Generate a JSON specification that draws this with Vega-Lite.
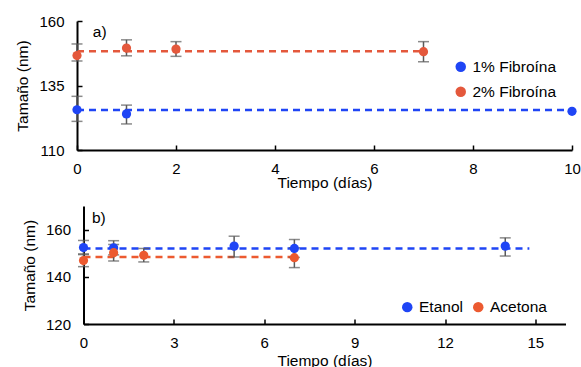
{
  "$schema": "https://vega.github.io/schema/vega-lite/v6.json",
  "padding": {"top": 14, "left": 15, "right": 2, "bottom": 0},
  "background": "white",
  "spacing": 56,
  "center": true,
  "bounds": "flush",
  "resolve": {"scale": {"color": "independent"}, "legend": {"color": "independent"}},
  "config": {
    "font": "Liberation Sans",
    "view": {"stroke": null},
    "axis": {
      "grid": false,
      "domainColor": "black",
      "domainWidth": 2,
      "tickColor": "black",
      "tickWidth": 1.5,
      "tickSize": -5,
      "labelFlush": false,
      "labelFont": "Liberation Sans",
      "labelFontSize": 15,
      "labelColor": "black",
      "titleFont": "Liberation Sans",
      "titleFontSize": 15.5,
      "titleFontWeight": "normal",
      "titleColor": "black"
    },
    "axisX": {"labelPadding": 16, "titlePadding": -1},
    "axisY": {"labelPadding": 18, "titlePadding": 8},
    "legend": {
      "labelFont": "Liberation Sans",
      "labelFontSize": 15.5,
      "labelColor": "black",
      "symbolType": "circle",
      "symbolSize": 110,
      "symbolStrokeWidth": 0,
      "title": null
    }
  },
  "datasets": {
    "pa": [
      {"serie": "1% Fibroína", "dia": 0, "tam": 125.6, "lo": 121.1, "hi": 130.8},
      {"serie": "1% Fibroína", "dia": 1, "tam": 124.0, "lo": 120.1, "hi": 127.4},
      {"serie": "1% Fibroína", "dia": 10, "tam": 125.0},
      {"serie": "2% Fibroína", "dia": 0, "tam": 146.6, "lo": 144.5, "hi": 151.1},
      {"serie": "2% Fibroína", "dia": 1, "tam": 149.5, "lo": 146.5, "hi": 152.7},
      {"serie": "2% Fibroína", "dia": 2, "tam": 149.1, "lo": 146.3, "hi": 152.0},
      {"serie": "2% Fibroína", "dia": 7, "tam": 148.1, "lo": 144.2, "hi": 152.0}
    ],
    "la": [
      {"serie": "1% Fibroína", "ini": 0, "fin": 10, "tam": 125.5},
      {"serie": "2% Fibroína", "ini": 0, "fin": 6.95, "tam": 148.3}
    ],
    "pb": [
      {"serie": "Etanol", "dia": 0, "tam": 152.4, "lo": 149.4, "hi": 155.4},
      {"serie": "Etanol", "dia": 1, "tam": 152.3, "lo": 149.3, "hi": 155.3},
      {"serie": "Etanol", "dia": 5, "tam": 153.0, "lo": 148.4, "hi": 157.2},
      {"serie": "Etanol", "dia": 7, "tam": 152.0, "lo": 148.2, "hi": 155.8},
      {"serie": "Etanol", "dia": 14, "tam": 153.0, "lo": 148.8, "hi": 156.5},
      {"serie": "Acetona", "dia": 0, "tam": 146.9, "lo": 144.3, "hi": 149.7},
      {"serie": "Acetona", "dia": 1, "tam": 150.2, "lo": 146.7, "hi": 153.7},
      {"serie": "Acetona", "dia": 2, "tam": 149.1, "lo": 146.3, "hi": 152.0},
      {"serie": "Acetona", "dia": 7, "tam": 148.1, "lo": 143.9, "hi": 152.3}
    ],
    "lb": [
      {"serie": "Etanol", "ini": 0, "fin": 14.8, "tam": 152.0},
      {"serie": "Acetona", "ini": 0, "fin": 7, "tam": 148.4}
    ],
    "ta": [{"t": "a)", "x": 0.32, "y": 155.8}],
    "tb": [{"t": "b)", "x": 0.28, "y": 164.8}]
  },
  "vconcat": [
    {
      "width": 495,
      "height": 129,
      "resolve": {"legend": {"color": "independent"}},
      "layer": [
        {
          "data": {"name": "la"},
          "mark": {"type": "rule", "strokeDash": [7, 5], "strokeWidth": 2.5},
          "encoding": {
            "x": {"field": "ini", "type": "quantitative", "scale": {"domain": [0, 10]}, "axis": {"values": [0, 2, 4, 6, 8, 10], "title": "Tiempo (días)"}},
            "x2": {"field": "fin"},
            "y": {"field": "tam", "type": "quantitative", "scale": {"domain": [110, 160]}, "axis": {"values": [110, 135, 160], "title": "Tamaño (nm)"}},
            "color": {"field": "serie", "type": "nominal", "scale": {"domain": ["1% Fibroína", "2% Fibroína"], "range": ["#1F45F5", "#E4583C"]}, "legend": null}
          }
        },
        {
          "data": {"name": "pa"},
          "mark": {"type": "rule", "color": "#5a5a5a", "strokeWidth": 1.5},
          "encoding": {
            "x": {"field": "dia", "type": "quantitative"},
            "y": {"field": "lo", "type": "quantitative"},
            "y2": {"field": "hi"}
          }
        },
        {
          "data": {"name": "pa"},
          "mark": {"type": "tick", "orient": "horizontal", "color": "#5a5a5a", "size": 11, "thickness": 1.5},
          "encoding": {
            "x": {"field": "dia", "type": "quantitative"},
            "y": {"field": "lo", "type": "quantitative"}
          }
        },
        {
          "data": {"name": "pa"},
          "mark": {"type": "tick", "orient": "horizontal", "color": "#5a5a5a", "size": 11, "thickness": 1.5},
          "encoding": {
            "x": {"field": "dia", "type": "quantitative"},
            "y": {"field": "hi", "type": "quantitative"}
          }
        },
        {
          "data": {"name": "pa"},
          "mark": {"type": "point", "filled": true, "opacity": 1, "size": 85},
          "encoding": {
            "x": {"field": "dia", "type": "quantitative"},
            "y": {"field": "tam", "type": "quantitative"},
            "color": {"field": "serie", "type": "nominal", "legend": {"orient": "none", "legendX": 376, "legendY": 38, "rowPadding": 8}}
          }
        },
        {
          "data": {"name": "ta"},
          "mark": {"type": "text", "fontSize": 15.5, "align": "left", "baseline": "middle", "color": "black"},
          "encoding": {
            "x": {"field": "x", "type": "quantitative"},
            "y": {"field": "y", "type": "quantitative"},
            "text": {"field": "t"}
          }
        }
      ]
    },
    {
      "width": 482,
      "height": 118,
      "resolve": {"legend": {"color": "independent"}},
      "layer": [
        {
          "data": {"name": "lb"},
          "mark": {"type": "rule", "strokeDash": [7, 5], "strokeWidth": 2.5},
          "encoding": {
            "x": {"field": "ini", "type": "quantitative", "scale": {"domain": [0, 15]}, "axis": {"values": [0, 3, 6, 9, 12, 15], "title": "Tiempo (días)", "titlePadding": 3}},
            "x2": {"field": "fin"},
            "y": {"field": "tam", "type": "quantitative", "scale": {"domain": [120, 170]}, "axis": {"values": [120, 140, 160], "title": "Tamaño (nm)"}},
            "color": {"field": "serie", "type": "nominal", "scale": {"domain": ["Etanol", "Acetona"], "range": ["#1F45F5", "#EC5A30"]}, "legend": null}
          }
        },
        {
          "data": {"name": "pb"},
          "mark": {"type": "rule", "color": "#5a5a5a", "strokeWidth": 1.5},
          "encoding": {
            "x": {"field": "dia", "type": "quantitative"},
            "y": {"field": "lo", "type": "quantitative"},
            "y2": {"field": "hi"}
          }
        },
        {
          "data": {"name": "pb"},
          "mark": {"type": "tick", "orient": "horizontal", "color": "#5a5a5a", "size": 11, "thickness": 1.5},
          "encoding": {
            "x": {"field": "dia", "type": "quantitative"},
            "y": {"field": "lo", "type": "quantitative"}
          }
        },
        {
          "data": {"name": "pb"},
          "mark": {"type": "tick", "orient": "horizontal", "color": "#5a5a5a", "size": 11, "thickness": 1.5},
          "encoding": {
            "x": {"field": "dia", "type": "quantitative"},
            "y": {"field": "hi", "type": "quantitative"}
          }
        },
        {
          "data": {"name": "pb"},
          "mark": {"type": "point", "filled": true, "opacity": 1, "size": 85},
          "encoding": {
            "x": {"field": "dia", "type": "quantitative"},
            "y": {"field": "tam", "type": "quantitative"},
            "color": {"field": "serie", "type": "nominal", "legend": {"orient": "none", "direction": "horizontal", "legendX": 316, "legendY": 93, "columnPadding": 7}}
          }
        },
        {
          "data": {"name": "tb"},
          "mark": {"type": "text", "fontSize": 15.5, "align": "left", "baseline": "middle", "color": "black"},
          "encoding": {
            "x": {"field": "x", "type": "quantitative"},
            "y": {"field": "y", "type": "quantitative"},
            "text": {"field": "t"}
          }
        }
      ]
    }
  ]
}
